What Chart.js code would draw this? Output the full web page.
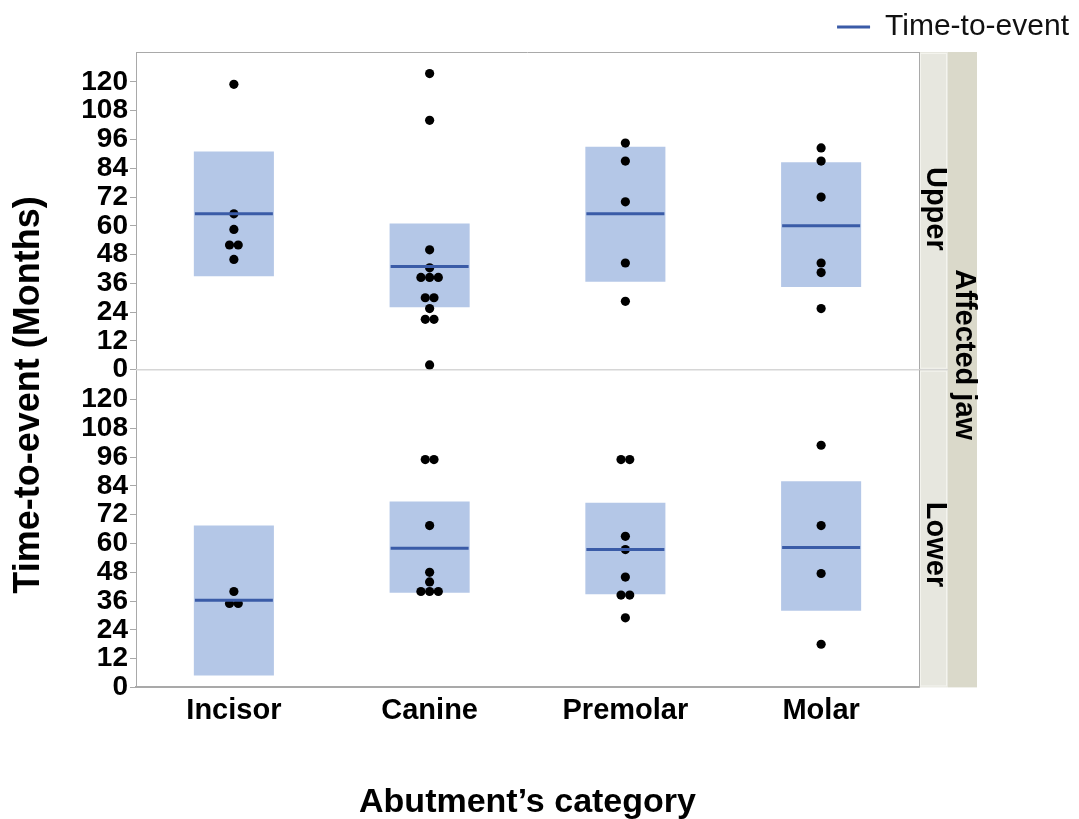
<!DOCTYPE html>
<html>
<head>
<meta charset="utf-8">
<title>Time-to-event by abutment</title>
<script src="https://cdn.jsdelivr.net/npm/chart.js@4.4.1/dist/chart.umd.min.js"></script>
<style>
  body { margin: 0; background: #fff; }
  canvas { display: block; }
</style>
</head>
<body>
<canvas id="myChart" width="1079" height="819"></canvas>
<script>
const categories = ['Incisor', 'Canine', 'Premolar', 'Molar'];
const jaws = ['Upper', 'Lower'];

// upper jaw: each abutment (months), mean and shaded band
const upperTimes = [
        [119, 65, 58.5, 52, 52, 46],
        [123.5, 104, 50, 42.5, 38.5, 38.5, 38.5, 30, 30, 25.5, 21, 21, 2],
        [94.5, 87, 70, 44.5, 28.5],
        [92.5, 87, 72, 44.5, 40.5, 25.5]
];
const upperMean = [65, 43, 65, 60];
const upperLow = [39, 26, 36.7, 34.5];
const upperHigh = [91, 61, 93, 86.5];

// lower jaw
const lowerTimes = [
        [40, 35, 35],
        [95, 95, 67.5, 48, 44, 40, 40, 40],
        [95, 95, 63, 57.5, 46, 38.5, 38.5, 29],
        [101, 67.5, 47.5, 18]
];
const lowerMean = [36.3, 58, 57.5, 58.3];
const lowerLow = [5, 39.5, 38.8, 32];
const lowerHigh = [67.5, 77.5, 77, 86];

const BAND = '#b4c7e7';
const MEAN = '#3a5ba7';
const FRAME = '#a9a9a9';

// equal values sit side by side instead of on top of each other
const dodgeStep = 0.0445;
function toPoints(times) {
        const pts = [];
        times.forEach((list, i) => {
                const counts = {};
                list.forEach(v => counts[v] = (counts[v] || 0) + 1);
                const seen = {};
                list.forEach(v => {
                        seen[v] = (seen[v] === undefined ? 0 : seen[v] + 1);
                        pts.push({ x: i + (seen[v] - (counts[v] - 1) / 2) * dodgeStep, y: v });
                });
        });
        return pts;
}

const band = (low, high, axis) => ({
        type: 'bar',
        label: 'band',
        data: low.map((l, i) => [l, high[i]]),
        xAxisID: 'x',
        yAxisID: axis,
        backgroundColor: BAND,
        grouped: false,
        barPercentage: 0.409,
        categoryPercentage: 1,
        order: 2
});
const meanLine = (mean, axis) => ({
        type: 'scatter',
        label: 'Time-to-event',
        data: mean.map((m, i) => ({ x: i, y: m })),
        xAxisID: 'xs',
        yAxisID: axis,
        pointStyle: 'line',
        pointRadius: 39,
        pointHoverRadius: 39,
        borderColor: MEAN,
        borderWidth: 3,
        pointBorderWidth: 3,
        order: 0
});
const dots = (times, axis) => ({
        type: 'scatter',
        label: 'dots',
        data: toPoints(times),
        xAxisID: 'xs',
        yAxisID: axis,
        pointRadius: 4.6,
        backgroundColor: '#000',
        borderColor: '#000',
        borderWidth: 0,
        order: 1
});

function jawAxis() {
        return {
                type: 'linear',
                position: 'left',
                stack: 'jaw',
                stackWeight: 1,
                min: 0,
                max: 132.5,
                afterBuildTicks(s) { s.ticks = s.ticks.filter(t => t.value <= 120); },
                afterFit(s) { s.width = 136; },
                grid: { drawOnChartArea: false, drawTicks: true, tickLength: 6, color: FRAME },
                border: { display: true, color: FRAME },
                ticks: { stepSize: 12, autoSkip: false, padding: 2, color: '#000', font: { size: 28, weight: 'bold' } }
        };
}

// frame, divider, facet strips and y title
const panelDecor = {
        id: 'panelDecor',
        beforeDatasetsDraw(chart) {
                const { ctx, chartArea: a, scales } = chart;
                const mid = scales.yUp.bottom;
                ctx.save();
                ctx.strokeStyle = '#d6d6d6';
                ctx.lineWidth = 1.5;
                ctx.beginPath();
                ctx.moveTo(a.left, mid);
                ctx.lineTo(a.right, mid);
                ctx.stroke();
                ctx.restore();
        },
        afterDraw(chart) {
                const { ctx, chartArea: a, scales } = chart;
                const panels = [scales.yUp, scales.yLow];
                const w = 29;
                ctx.save();
                // outer strip
                ctx.fillStyle = '#dad9ca';
                ctx.fillRect(a.right + w, a.top, w, a.bottom - a.top);
                // inner strips
                panels.forEach((s, i) => {
                        ctx.fillStyle = '#e7e7df';
                        ctx.fillRect(a.right, s.top, w, s.bottom - s.top);
                        ctx.strokeStyle = '#f4f4ee';
                        ctx.lineWidth = 1;
                        ctx.strokeRect(a.right + 1.5, s.top + 1.5, w - 3, s.bottom - s.top - 3);
                        ctx.fillStyle = '#000';
                        ctx.font = 'bold 29px "Liberation Sans", Arial, sans-serif';
                        ctx.textAlign = 'center';
                        ctx.textBaseline = 'middle';
                        ctx.save();
                        ctx.translate(a.right + w / 2 + 1, (s.top + s.bottom) / 2 + (i ? 16 : -2));
                        ctx.rotate(Math.PI / 2);
                        ctx.fillText(jaws[i], 0, 0);
                        ctx.restore();
                });
                ctx.save();
                ctx.translate(a.right + w * 1.5 + 1, (a.top + a.bottom) / 2 - 15);
                ctx.rotate(Math.PI / 2);
                ctx.fillStyle = '#000';
                ctx.font = 'bold 29px "Liberation Sans", Arial, sans-serif';
                ctx.textAlign = 'center';
                ctx.textBaseline = 'middle';
                ctx.fillText('Affected jaw', 0, 0);
                ctx.restore();

                // frame
                ctx.strokeStyle = FRAME;
                ctx.lineWidth = 1;
                ctx.beginPath();
                ctx.moveTo(a.left, a.top + 0.5);
                ctx.lineTo(a.right, a.top + 0.5);
                ctx.moveTo(a.right + 0.5, a.top);
                ctx.lineTo(a.right + 0.5, a.bottom);
                ctx.stroke();
                ctx.strokeStyle = '#cfcfcf';
                ctx.beginPath();
                ctx.moveTo(a.right, scales.yUp.bottom);
                ctx.lineTo(a.right + w, scales.yUp.bottom);
                ctx.stroke();

                // y title
                ctx.save();
                ctx.translate(29, 395);
                ctx.rotate(-Math.PI / 2);
                ctx.fillStyle = '#000';
                ctx.font = 'bold 36px "Liberation Sans", Arial, sans-serif';
                ctx.textAlign = 'center';
                ctx.textBaseline = 'middle';
                ctx.fillText('Time-to-event (Months)', 0, 0);
                ctx.restore();
                ctx.restore();
        }
};

Chart.defaults.font.family = '"Liberation Sans", Arial, sans-serif';

const myChart = new Chart(document.getElementById('myChart'), {
        data: {
                datasets: [
                        band(upperLow, upperHigh, 'yUp'),
                        meanLine(upperMean, 'yUp'),
                        dots(upperTimes, 'yUp'),
                        band(lowerLow, lowerHigh, 'yLow'),
                        meanLine(lowerMean, 'yLow'),
                        dots(lowerTimes, 'yLow')
                ]
        },
        options: {
                responsive: false,
                animation: false,
                layout: { padding: { top: 2, left: 0, bottom: 0, right: 0 } },
                plugins: {
                        tooltip: { enabled: false },
                        legend: {
                                position: 'top',
                                align: 'end',
                                labels: {
                                        filter: item => item.datasetIndex === 1,
                                        usePointStyle: true,
                                        pointStyleWidth: 33,
                                        color: '#111',
                                        font: { size: 30 },
                                        padding: 10
                                }
                        }
                },
                scales: {
                        x: {
                                type: 'category',
                                labels: categories,
                                offset: true,
                                position: 'bottom',
                                grid: { display: false, drawTicks: false },
                                border: { display: true, color: FRAME, width: 2 },
                                ticks: { color: '#000', padding: 6, font: { size: 29, weight: 'bold' } },
                                title: {
                                        display: true,
                                        text: 'Abutment’s category',
                                        color: '#000',
                                        font: { size: 34, weight: 'bold' },
                                        padding: { top: 48, bottom: -4 }
                                }
                        },
                        xs: { type: 'linear', min: -0.5, max: 3.5, display: false },
                        // the later one of the pair is stacked on top
                        yLow: jawAxis(),
                        yUp: jawAxis(),
                        strip: {
                                type: 'linear',
                                position: 'right',
                                grid: { display: false },
                                border: { display: false },
                                ticks: { display: false },
                                afterFit(s) { s.width = 160; }
                        }
                }
        },
        plugins: [panelDecor]
});
</script>
</body>
</html>
